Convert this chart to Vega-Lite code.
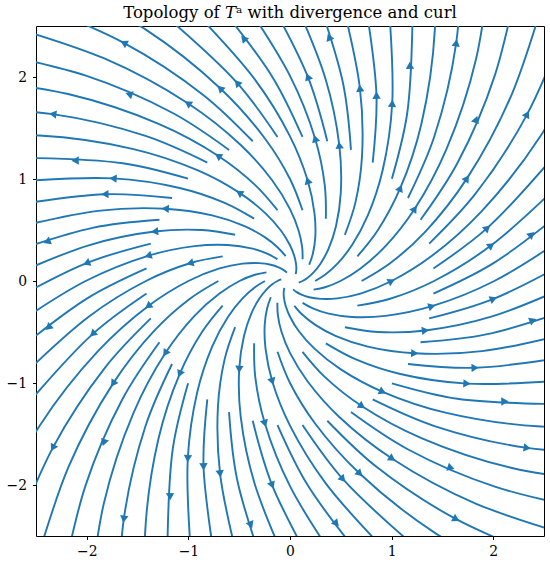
{
"$schema": "https://vega.github.io/schema/vega-lite/v6.json",
"width": 508, "height": 510,
"autosize": {"type": "none"},
"padding": {"left": 36, "top": 26, "right": 6, "bottom": 27},
"title": {"text": "Topology of 𝑇ᵃ with divergence and curl", "font": "DejaVu Serif", "fontSize": 16.5, "fontWeight": "normal", "color": "#000000", "offset": 5, "anchor": "middle"},
"config": {
  "view": {"stroke": "#000000", "strokeWidth": 1},
  "axis": {"title": null, "grid": false, "domain": false, "labelFont": "DejaVu Serif", "labelFontSize": 13.9, "labelColor": "#000000", "tickColor": "#000000", "tickSize": 3.5, "tickWidth": 1},
  "axisX": {"labelPadding": 5},
  "axisY": {"labelPadding": 6}
},
"datasets": {
"lines": [
{"id":"a0","k":-7,"x":0.030,"y":-0.082},{"id":"a0","k":-6,"x":0.062,"y":-0.107},{"id":"a0","k":-5,"x":0.112,"y":-0.133},{"id":"a0","k":-4,"x":0.189,"y":-0.159},{"id":"a0","k":-3,"x":0.303,"y":-0.175},{"id":"a0","k":-2,"x":0.467,"y":-0.170},{"id":"a0","k":-1,"x":0.694,"y":-0.123},{"id":"a0","k":0,"x":1,"y":0},{"id":"a0","k":1,"x":1.397,"y":0.247},{"id":"a0","k":2,"x":1.890,"y":0.688},{"id":"a0","k":3,"x":2.469,"y":1.426},{"id":"a0","k":4,"x":3.095,"y":2.597},
{"id":"a60","k":-7,"x":0.086,"y":-0.015},{"id":"a60","k":-6,"x":0.123,"y":0},{"id":"a60","k":-5,"x":0.171,"y":0.030},{"id":"a60","k":-4,"x":0.232,"y":0.084},{"id":"a60","k":-3,"x":0.303,"y":0.175},{"id":"a60","k":-2,"x":0.381,"y":0.320},{"id":"a60","k":-1,"x":0.453,"y":0.540},{"id":"a60","k":0,"x":0.5,"y":0.866},{"id":"a60","k":1,"x":0.485,"y":1.333},{"id":"a60","k":2,"x":0.350,"y":1.981},{"id":"a60","k":3,"x":0,"y":2.851},
{"id":"a120","k":-7,"x":0.056,"y":0.067},{"id":"a120","k":-6,"x":0.062,"y":0.107},{"id":"a120","k":-5,"x":0.060,"y":0.164},{"id":"a120","k":-4,"x":0.043,"y":0.243},{"id":"a120","k":-3,"x":0,"y":0.350},{"id":"a120","k":-2,"x":-0.086,"y":0.490},{"id":"a120","k":-1,"x":-0.241,"y":0.663},{"id":"a120","k":0,"x":-0.5,"y":0.866},{"id":"a120","k":1,"x":-0.912,"y":1.086},{"id":"a120","k":2,"x":-1.540,"y":1.293},{"id":"a120","k":3,"x":-2.469,"y":1.426},{"id":"a120","k":4,"x":-3.796,"y":1.382},
{"id":"a180","k":-7,"x":-0.030,"y":0.082},{"id":"a180","k":-6,"x":-0.062,"y":0.107},{"id":"a180","k":-5,"x":-0.112,"y":0.133},{"id":"a180","k":-4,"x":-0.189,"y":0.159},{"id":"a180","k":-3,"x":-0.303,"y":0.175},{"id":"a180","k":-2,"x":-0.467,"y":0.170},{"id":"a180","k":-1,"x":-0.694,"y":0.123},{"id":"a180","k":0,"x":-1,"y":0},{"id":"a180","k":1,"x":-1.397,"y":-0.247},{"id":"a180","k":2,"x":-1.890,"y":-0.688},{"id":"a180","k":3,"x":-2.469,"y":-1.426},{"id":"a180","k":4,"x":-3.095,"y":-2.597},
{"id":"a240","k":-7,"x":-0.086,"y":0.015},{"id":"a240","k":-6,"x":-0.123,"y":0},{"id":"a240","k":-5,"x":-0.171,"y":-0.030},{"id":"a240","k":-4,"x":-0.232,"y":-0.084},{"id":"a240","k":-3,"x":-0.303,"y":-0.175},{"id":"a240","k":-2,"x":-0.381,"y":-0.320},{"id":"a240","k":-1,"x":-0.453,"y":-0.540},{"id":"a240","k":0,"x":-0.5,"y":-0.866},{"id":"a240","k":1,"x":-0.485,"y":-1.333},{"id":"a240","k":2,"x":-0.350,"y":-1.981},{"id":"a240","k":3,"x":0,"y":-2.851},
{"id":"a300","k":-7,"x":-0.056,"y":-0.067},{"id":"a300","k":-6,"x":-0.062,"y":-0.107},{"id":"a300","k":-5,"x":-0.060,"y":-0.164},{"id":"a300","k":-4,"x":-0.043,"y":-0.243},{"id":"a300","k":-3,"x":0,"y":-0.350},{"id":"a300","k":-2,"x":0.086,"y":-0.490},{"id":"a300","k":-1,"x":0.241,"y":-0.663},{"id":"a300","k":0,"x":0.5,"y":-0.866},{"id":"a300","k":1,"x":0.912,"y":-1.086},{"id":"a300","k":2,"x":1.540,"y":-1.293},{"id":"a300","k":3,"x":2.469,"y":-1.426},{"id":"a300","k":4,"x":3.796,"y":-1.382},
{"id":"b20","k":-4,"x":0.232,"y":-0.084},{"id":"b20","k":-3,"x":0.345,"y":-0.061},{"id":"b20","k":-2,"x":0.497,"y":0},{"id":"b20","k":-1,"x":0.694,"y":0.123},{"id":"b20","k":0,"x":0.940,"y":0.342},{"id":"b20","k":1,"x":1.228,"y":0.709},{"id":"b20","k":2,"x":1.540,"y":1.293},{"id":"b20","k":3,"x":1.833,"y":2.184},{"id":"b20","k":4,"x":2.02,"y":3.499},
{"id":"b40","k":-4,"x":0.247,"y":0},{"id":"b40","k":-3,"x":0.345,"y":0.061},{"id":"b40","k":-2,"x":0.467,"y":0.170},{"id":"b40","k":-1,"x":0.611,"y":0.353},{"id":"b40","k":0,"x":0.766,"y":0.643},{"id":"b40","k":1,"x":0.912,"y":1.086},{"id":"b40","k":2,"x":1.006,"y":1.742},{"id":"b40","k":3,"x":0.975,"y":2.680},
{"id":"b80","k":-4,"x":0.189,"y":0.159},{"id":"b80","k":-3,"x":0.225,"y":0.268},{"id":"b80","k":-2,"x":0.249,"y":0.430},{"id":"b80","k":-1,"x":0.241,"y":0.663},{"id":"b80","k":0,"x":0.174,"y":0.985},{"id":"b80","k":1,"x":0,"y":1.418},{"id":"b80","k":2,"x":-0.350,"y":1.981},{"id":"b80","k":3,"x":-0.975,"y":2.680},
{"id":"b100","k":-4,"x":0.124,"y":0.214},{"id":"b100","k":-3,"x":0.120,"y":0.329},{"id":"b100","k":-2,"x":0.086,"y":0.490},{"id":"b100","k":-1,"x":0,"y":0.705},{"id":"b100","k":0,"x":-0.174,"y":0.985},{"id":"b100","k":1,"x":-0.485,"y":1.333},{"id":"b100","k":2,"x":-1.006,"y":1.742},{"id":"b100","k":3,"x":-1.833,"y":2.184},{"id":"b100","k":4,"x":-3.095,"y":2.597},
{"id":"b140","k":-4,"x":-0.043,"y":0.243},{"id":"b140","k":-3,"x":-0.120,"y":0.329},{"id":"b140","k":-2,"x":-0.249,"y":0.430},{"id":"b140","k":-1,"x":-0.453,"y":0.540},{"id":"b140","k":0,"x":-0.766,"y":0.643},{"id":"b140","k":1,"x":-1.228,"y":0.709},{"id":"b140","k":2,"x":-1.890,"y":0.688},{"id":"b140","k":3,"x":-2.808,"y":0.496},
{"id":"b160","k":-4,"x":-0.124,"y":0.214},{"id":"b160","k":-3,"x":-0.225,"y":0.268},{"id":"b160","k":-2,"x":-0.381,"y":0.320},{"id":"b160","k":-1,"x":-0.611,"y":0.353},{"id":"b160","k":0,"x":-0.940,"y":0.342},{"id":"b160","k":1,"x":-1.397,"y":0.247},{"id":"b160","k":2,"x":-2.011,"y":0},{"id":"b160","k":3,"x":-2.808,"y":-0.496},
{"id":"b200","k":-4,"x":-0.232,"y":0.084},{"id":"b200","k":-3,"x":-0.345,"y":0.061},{"id":"b200","k":-2,"x":-0.497,"y":0},{"id":"b200","k":-1,"x":-0.694,"y":-0.123},{"id":"b200","k":0,"x":-0.940,"y":-0.342},{"id":"b200","k":1,"x":-1.228,"y":-0.709},{"id":"b200","k":2,"x":-1.540,"y":-1.293},{"id":"b200","k":3,"x":-1.833,"y":-2.184},{"id":"b200","k":4,"x":-2.02,"y":-3.499},
{"id":"b220","k":-4,"x":-0.247,"y":0},{"id":"b220","k":-3,"x":-0.345,"y":-0.061},{"id":"b220","k":-2,"x":-0.467,"y":-0.170},{"id":"b220","k":-1,"x":-0.611,"y":-0.353},{"id":"b220","k":0,"x":-0.766,"y":-0.643},{"id":"b220","k":1,"x":-0.912,"y":-1.086},{"id":"b220","k":2,"x":-1.006,"y":-1.742},{"id":"b220","k":3,"x":-0.975,"y":-2.680},
{"id":"b260","k":-4,"x":-0.189,"y":-0.159},{"id":"b260","k":-3,"x":-0.225,"y":-0.268},{"id":"b260","k":-2,"x":-0.249,"y":-0.430},{"id":"b260","k":-1,"x":-0.241,"y":-0.663},{"id":"b260","k":0,"x":-0.174,"y":-0.985},{"id":"b260","k":1,"x":0,"y":-1.418},{"id":"b260","k":2,"x":0.350,"y":-1.981},{"id":"b260","k":3,"x":0.975,"y":-2.680},
{"id":"b280","k":-4,"x":-0.124,"y":-0.214},{"id":"b280","k":-3,"x":-0.120,"y":-0.329},{"id":"b280","k":-2,"x":-0.086,"y":-0.490},{"id":"b280","k":-1,"x":0,"y":-0.705},{"id":"b280","k":0,"x":0.174,"y":-0.985},{"id":"b280","k":1,"x":0.485,"y":-1.333},{"id":"b280","k":2,"x":1.006,"y":-1.742},{"id":"b280","k":3,"x":1.833,"y":-2.184},{"id":"b280","k":4,"x":3.095,"y":-2.597},
{"id":"b320","k":-4,"x":0.043,"y":-0.243},{"id":"b320","k":-3,"x":0.120,"y":-0.329},{"id":"b320","k":-2,"x":0.249,"y":-0.430},{"id":"b320","k":-1,"x":0.453,"y":-0.540},{"id":"b320","k":0,"x":0.766,"y":-0.643},{"id":"b320","k":1,"x":1.228,"y":-0.709},{"id":"b320","k":2,"x":1.890,"y":-0.688},{"id":"b320","k":3,"x":2.808,"y":-0.496},
{"id":"b340","k":-4,"x":0.124,"y":-0.214},{"id":"b340","k":-3,"x":0.225,"y":-0.268},{"id":"b340","k":-2,"x":0.381,"y":-0.320},{"id":"b340","k":-1,"x":0.611,"y":-0.353},{"id":"b340","k":0,"x":0.940,"y":-0.342},{"id":"b340","k":1,"x":1.397,"y":-0.247},{"id":"b340","k":2,"x":2.011,"y":0},{"id":"b340","k":3,"x":2.808,"y":0.496},
{"id":"c10","k":-1,"x":0.705,"y":0},{"id":"c10","k":0,"x":0.985,"y":0.174},{"id":"c10","k":1,"x":1.333,"y":0.485},{"id":"c10","k":2,"x":1.742,"y":1.006},{"id":"c10","k":3,"x":2.184,"y":1.833},{"id":"c10","k":4,"x":2.597,"y":3.095},
{"id":"c30","k":-1,"x":0.663,"y":0.241},{"id":"c30","k":0,"x":0.866,"y":0.5},{"id":"c30","k":1,"x":1.086,"y":0.912},{"id":"c30","k":2,"x":1.293,"y":1.540},{"id":"c30","k":3,"x":1.426,"y":2.469},{"id":"c30","k":4,"x":1.382,"y":3.796},
{"id":"c50","k":-1,"x":0.540,"y":0.453},{"id":"c50","k":0,"x":0.643,"y":0.766},{"id":"c50","k":1,"x":0.709,"y":1.228},{"id":"c50","k":2,"x":0.688,"y":1.890},{"id":"c50","k":3,"x":0.496,"y":2.808},
{"id":"c70","k":-1,"x":0.353,"y":0.611},{"id":"c70","k":0,"x":0.342,"y":0.940},{"id":"c70","k":1,"x":0.247,"y":1.397},{"id":"c70","k":2,"x":0,"y":2.011},{"id":"c70","k":3,"x":-0.496,"y":2.808},
{"id":"c90","k":-1,"x":0.123,"y":0.694},{"id":"c90","k":0,"x":0,"y":1},{"id":"c90","k":1,"x":-0.247,"y":1.397},{"id":"c90","k":2,"x":-0.688,"y":1.890},{"id":"c90","k":3,"x":-1.426,"y":2.469},{"id":"c90","k":4,"x":-2.597,"y":3.095},
{"id":"c110","k":-1,"x":-0.123,"y":0.694},{"id":"c110","k":0,"x":-0.342,"y":0.940},{"id":"c110","k":1,"x":-0.709,"y":1.228},{"id":"c110","k":2,"x":-1.293,"y":1.540},{"id":"c110","k":3,"x":-2.184,"y":1.833},{"id":"c110","k":4,"x":-3.499,"y":2.02},
{"id":"c130","k":-1,"x":-0.353,"y":0.611},{"id":"c130","k":0,"x":-0.643,"y":0.766},{"id":"c130","k":1,"x":-1.086,"y":0.912},{"id":"c130","k":2,"x":-1.742,"y":1.006},{"id":"c130","k":3,"x":-2.680,"y":0.975},
{"id":"c150","k":-1,"x":-0.540,"y":0.453},{"id":"c150","k":0,"x":-0.866,"y":0.5},{"id":"c150","k":1,"x":-1.333,"y":0.485},{"id":"c150","k":2,"x":-1.981,"y":0.350},{"id":"c150","k":3,"x":-2.851,"y":0},
{"id":"c170","k":-1,"x":-0.663,"y":0.241},{"id":"c170","k":0,"x":-0.985,"y":0.174},{"id":"c170","k":1,"x":-1.418,"y":0},{"id":"c170","k":2,"x":-1.981,"y":-0.350},{"id":"c170","k":3,"x":-2.680,"y":-0.975},
{"id":"c190","k":-1,"x":-0.705,"y":0},{"id":"c190","k":0,"x":-0.985,"y":-0.174},{"id":"c190","k":1,"x":-1.333,"y":-0.485},{"id":"c190","k":2,"x":-1.742,"y":-1.006},{"id":"c190","k":3,"x":-2.184,"y":-1.833},{"id":"c190","k":4,"x":-2.597,"y":-3.095},
{"id":"c210","k":-1,"x":-0.663,"y":-0.241},{"id":"c210","k":0,"x":-0.866,"y":-0.5},{"id":"c210","k":1,"x":-1.086,"y":-0.912},{"id":"c210","k":2,"x":-1.293,"y":-1.540},{"id":"c210","k":3,"x":-1.426,"y":-2.469},{"id":"c210","k":4,"x":-1.382,"y":-3.796},
{"id":"c230","k":-1,"x":-0.540,"y":-0.453},{"id":"c230","k":0,"x":-0.643,"y":-0.766},{"id":"c230","k":1,"x":-0.709,"y":-1.228},{"id":"c230","k":2,"x":-0.688,"y":-1.890},{"id":"c230","k":3,"x":-0.496,"y":-2.808},
{"id":"c250","k":-1,"x":-0.353,"y":-0.611},{"id":"c250","k":0,"x":-0.342,"y":-0.940},{"id":"c250","k":1,"x":-0.247,"y":-1.397},{"id":"c250","k":2,"x":0,"y":-2.011},{"id":"c250","k":3,"x":0.496,"y":-2.808},
{"id":"c270","k":-1,"x":-0.123,"y":-0.694},{"id":"c270","k":0,"x":0,"y":-1},{"id":"c270","k":1,"x":0.247,"y":-1.397},{"id":"c270","k":2,"x":0.688,"y":-1.890},{"id":"c270","k":3,"x":1.426,"y":-2.469},{"id":"c270","k":4,"x":2.597,"y":-3.095},
{"id":"c290","k":-1,"x":0.123,"y":-0.694},{"id":"c290","k":0,"x":0.342,"y":-0.940},{"id":"c290","k":1,"x":0.709,"y":-1.228},{"id":"c290","k":2,"x":1.293,"y":-1.540},{"id":"c290","k":3,"x":2.184,"y":-1.833},{"id":"c290","k":4,"x":3.499,"y":-2.02},
{"id":"c310","k":-1,"x":0.353,"y":-0.611},{"id":"c310","k":0,"x":0.643,"y":-0.766},{"id":"c310","k":1,"x":1.086,"y":-0.912},{"id":"c310","k":2,"x":1.742,"y":-1.006},{"id":"c310","k":3,"x":2.680,"y":-0.975},
{"id":"c330","k":-1,"x":0.540,"y":-0.453},{"id":"c330","k":0,"x":0.866,"y":-0.5},{"id":"c330","k":1,"x":1.333,"y":-0.485},{"id":"c330","k":2,"x":1.981,"y":-0.350},{"id":"c330","k":3,"x":2.851,"y":0},
{"id":"c350","k":-1,"x":0.663,"y":-0.241},{"id":"c350","k":0,"x":0.985,"y":-0.174},{"id":"c350","k":1,"x":1.418,"y":0},{"id":"c350","k":2,"x":1.981,"y":0.350},{"id":"c350","k":3,"x":2.680,"y":0.975},
{"id":"d5","k":1,"x":1.370,"y":0.367},{"id":"d5","k":2,"x":1.822,"y":0.851},{"id":"d5","k":3,"x":2.335,"y":1.636},{"id":"d5","k":4,"x":2.857,"y":2.857},
{"id":"d15","k":1,"x":1.285,"y":0.600},{"id":"d15","k":2,"x":1.647,"y":1.154},{"id":"d15","k":3,"x":2.016,"y":2.016},{"id":"d15","k":4,"x":2.319,"y":3.309},
{"id":"d25","k":1,"x":1.161,"y":0.814},{"id":"d25","k":2,"x":1.422,"y":1.422},{"id":"d25","k":3,"x":1.636,"y":2.335},{"id":"d25","k":4,"x":1.707,"y":3.661},
{"id":"d35","k":1,"x":1.003,"y":1.003},{"id":"d35","k":2,"x":1.154,"y":1.647},{"id":"d35","k":3,"x":1.206,"y":2.583},
{"id":"d45","k":1,"x":0.814,"y":1.161},{"id":"d45","k":2,"x":0.851,"y":1.822},{"id":"d45","k":3,"x":0.738,"y":2.754},
{"id":"d55","k":1,"x":0.600,"y":1.285},{"id":"d55","k":2,"x":0.521,"y":1.943},{"id":"d55","k":3,"x":0.248,"y":2.840},
{"id":"d65","k":1,"x":0.367,"y":1.370},{"id":"d65","k":2,"x":0.175,"y":2.003},{"id":"d65","k":3,"x":-0.248,"y":2.840},
{"id":"d75","k":1,"x":0.123,"y":1.412},{"id":"d75","k":2,"x":-0.175,"y":2.003},{"id":"d75","k":3,"x":-0.738,"y":2.754},
{"id":"d85","k":1,"x":-0.123,"y":1.412},{"id":"d85","k":2,"x":-0.521,"y":1.943},{"id":"d85","k":3,"x":-1.206,"y":2.583},
{"id":"d95","k":1,"x":-0.367,"y":1.370},{"id":"d95","k":2,"x":-0.851,"y":1.822},{"id":"d95","k":3,"x":-1.636,"y":2.335},{"id":"d95","k":4,"x":-2.857,"y":2.857},
{"id":"d105","k":1,"x":-0.600,"y":1.285},{"id":"d105","k":2,"x":-1.154,"y":1.647},{"id":"d105","k":3,"x":-2.016,"y":2.016},{"id":"d105","k":4,"x":-3.309,"y":2.319},
{"id":"d115","k":1,"x":-0.814,"y":1.161},{"id":"d115","k":2,"x":-1.422,"y":1.422},{"id":"d115","k":3,"x":-2.335,"y":1.636},{"id":"d115","k":4,"x":-3.661,"y":1.707},
{"id":"d125","k":1,"x":-1.003,"y":1.003},{"id":"d125","k":2,"x":-1.647,"y":1.154},{"id":"d125","k":3,"x":-2.583,"y":1.206},
{"id":"d135","k":1,"x":-1.161,"y":0.814},{"id":"d135","k":2,"x":-1.822,"y":0.851},{"id":"d135","k":3,"x":-2.754,"y":0.738},
{"id":"d145","k":1,"x":-1.285,"y":0.600},{"id":"d145","k":2,"x":-1.943,"y":0.521},{"id":"d145","k":3,"x":-2.840,"y":0.248},
{"id":"d155","k":1,"x":-1.370,"y":0.367},{"id":"d155","k":2,"x":-2.003,"y":0.175},{"id":"d155","k":3,"x":-2.840,"y":-0.248},
{"id":"d165","k":1,"x":-1.412,"y":0.123},{"id":"d165","k":2,"x":-2.003,"y":-0.175},{"id":"d165","k":3,"x":-2.754,"y":-0.738},
{"id":"d175","k":1,"x":-1.412,"y":-0.123},{"id":"d175","k":2,"x":-1.943,"y":-0.521},{"id":"d175","k":3,"x":-2.583,"y":-1.206},
{"id":"d185","k":1,"x":-1.370,"y":-0.367},{"id":"d185","k":2,"x":-1.822,"y":-0.851},{"id":"d185","k":3,"x":-2.335,"y":-1.636},{"id":"d185","k":4,"x":-2.857,"y":-2.857},
{"id":"d195","k":1,"x":-1.285,"y":-0.600},{"id":"d195","k":2,"x":-1.647,"y":-1.154},{"id":"d195","k":3,"x":-2.016,"y":-2.016},{"id":"d195","k":4,"x":-2.319,"y":-3.309},
{"id":"d205","k":1,"x":-1.161,"y":-0.814},{"id":"d205","k":2,"x":-1.422,"y":-1.422},{"id":"d205","k":3,"x":-1.636,"y":-2.335},{"id":"d205","k":4,"x":-1.707,"y":-3.661},
{"id":"d215","k":1,"x":-1.003,"y":-1.003},{"id":"d215","k":2,"x":-1.154,"y":-1.647},{"id":"d215","k":3,"x":-1.206,"y":-2.583},
{"id":"d225","k":1,"x":-0.814,"y":-1.161},{"id":"d225","k":2,"x":-0.851,"y":-1.822},{"id":"d225","k":3,"x":-0.738,"y":-2.754},
{"id":"d235","k":1,"x":-0.600,"y":-1.285},{"id":"d235","k":2,"x":-0.521,"y":-1.943},{"id":"d235","k":3,"x":-0.248,"y":-2.840},
{"id":"d245","k":1,"x":-0.367,"y":-1.370},{"id":"d245","k":2,"x":-0.175,"y":-2.003},{"id":"d245","k":3,"x":0.248,"y":-2.840},
{"id":"d255","k":1,"x":-0.123,"y":-1.412},{"id":"d255","k":2,"x":0.175,"y":-2.003},{"id":"d255","k":3,"x":0.738,"y":-2.754},
{"id":"d265","k":1,"x":0.123,"y":-1.412},{"id":"d265","k":2,"x":0.521,"y":-1.943},{"id":"d265","k":3,"x":1.206,"y":-2.583},
{"id":"d275","k":1,"x":0.367,"y":-1.370},{"id":"d275","k":2,"x":0.851,"y":-1.822},{"id":"d275","k":3,"x":1.636,"y":-2.335},{"id":"d275","k":4,"x":2.857,"y":-2.857},
{"id":"d285","k":1,"x":0.600,"y":-1.285},{"id":"d285","k":2,"x":1.154,"y":-1.647},{"id":"d285","k":3,"x":2.016,"y":-2.016},{"id":"d285","k":4,"x":3.309,"y":-2.319},
{"id":"d295","k":1,"x":0.814,"y":-1.161},{"id":"d295","k":2,"x":1.422,"y":-1.422},{"id":"d295","k":3,"x":2.335,"y":-1.636},{"id":"d295","k":4,"x":3.661,"y":-1.707},
{"id":"d305","k":1,"x":1.003,"y":-1.003},{"id":"d305","k":2,"x":1.647,"y":-1.154},{"id":"d305","k":3,"x":2.583,"y":-1.206},
{"id":"d315","k":1,"x":1.161,"y":-0.814},{"id":"d315","k":2,"x":1.822,"y":-0.851},{"id":"d315","k":3,"x":2.754,"y":-0.738},
{"id":"d325","k":1,"x":1.285,"y":-0.600},{"id":"d325","k":2,"x":1.943,"y":-0.521},{"id":"d325","k":3,"x":2.840,"y":-0.248},
{"id":"d335","k":1,"x":1.370,"y":-0.367},{"id":"d335","k":2,"x":2.003,"y":-0.175},{"id":"d335","k":3,"x":2.840,"y":0.248},
{"id":"d345","k":1,"x":1.412,"y":-0.123},{"id":"d345","k":2,"x":2.003,"y":0.175},{"id":"d345","k":3,"x":2.754,"y":0.738},
{"id":"d355","k":1,"x":1.412,"y":0.123},{"id":"d355","k":2,"x":1.943,"y":0.521},{"id":"d355","k":3,"x":2.583,"y":1.206}
],
"arrows": [
{"x":1,"y":0,"dir":333.4},{"x":0.485,"y":1.333,"dir":263.4},{"x":-0.5,"y":0.866,"dir":213.4},{"x":-1.397,"y":-0.247,"dir":143.4},{"x":-0.5,"y":-0.866,"dir":93.4},{"x":0.912,"y":-1.086,"dir":23.4},
{"x":1.228,"y":0.709,"dir":303.4},{"x":1.006,"y":1.742,"dir":273.4},{"x":0.174,"y":0.985,"dir":253.4},{"x":-1.006,"y":1.742,"dir":213.4},{"x":-1.228,"y":0.709,"dir":183.4},{"x":-1.397,"y":0.247,"dir":163.4},
{"x":-1.228,"y":-0.709,"dir":123.4},{"x":-1.006,"y":-1.742,"dir":93.4},{"x":-0.174,"y":-0.985,"dir":73.4},{"x":1.006,"y":-1.742,"dir":33.4},{"x":1.228,"y":-0.709,"dir":3.4},{"x":1.397,"y":-0.247,"dir":343.4},
{"x":1.742,"y":1.006,"dir":303.4},{"x":1.086,"y":0.912,"dir":293.4},{"x":0.688,"y":1.890,"dir":263.4},{"x":0.247,"y":1.397,"dir":253.4},{"x":-0.688,"y":1.890,"dir":223.4},{"x":-0.709,"y":1.228,"dir":213.4},
{"x":-1.742,"y":1.006,"dir":183.4},{"x":-1.333,"y":0.485,"dir":173.4},{"x":-0.985,"y":0.174,"dir":163.4},{"x":-1.742,"y":-1.006,"dir":123.4},{"x":-1.086,"y":-0.912,"dir":113.4},{"x":-0.688,"y":-1.890,"dir":83.4},
{"x":-0.247,"y":-1.397,"dir":73.4},{"x":0.688,"y":-1.890,"dir":43.4},{"x":0.709,"y":-1.228,"dir":33.4},{"x":1.742,"y":-1.006,"dir":3.4},{"x":1.333,"y":-0.485,"dir":353.4},{"x":1.981,"y":0.350,"dir":323.4},
{"x":2.335,"y":1.636,"dir":298.4},{"x":1.832,"y":1.585,"dir":288.4},{"x":1.636,"y":2.335,"dir":278.4},{"x":1.180,"y":2.115,"dir":268.4},{"x":0.851,"y":1.822,"dir":268.4},{"x":0.385,"y":2.392,"dir":248.4},
{"x":0.175,"y":2.003,"dir":248.4},{"x":-0.457,"y":2.379,"dir":228.4},{"x":-0.521,"y":1.943,"dir":228.4},{"x":-1.636,"y":2.335,"dir":208.4},{"x":-1.585,"y":1.832,"dir":198.4},{"x":-2.335,"y":1.636,"dir":188.4},
{"x":-2.115,"y":1.180,"dir":178.4},{"x":-1.822,"y":0.851,"dir":178.4},{"x":-2.392,"y":0.385,"dir":158.4},{"x":-2.003,"y":0.175,"dir":158.4},{"x":-2.379,"y":-0.457,"dir":138.4},{"x":-1.943,"y":-0.521,"dir":138.4},
{"x":-2.335,"y":-1.636,"dir":118.4},{"x":-1.832,"y":-1.585,"dir":108.4},{"x":-1.636,"y":-2.335,"dir":98.4},{"x":-1.180,"y":-2.115,"dir":88.4},{"x":-0.851,"y":-1.822,"dir":88.4},{"x":-0.385,"y":-2.392,"dir":68.4},
{"x":-0.175,"y":-2.003,"dir":68.4},{"x":0.457,"y":-2.379,"dir":48.4},{"x":0.521,"y":-1.943,"dir":48.4},{"x":1.636,"y":-2.335,"dir":28.4},{"x":1.585,"y":-1.832,"dir":18.4},{"x":2.335,"y":-1.636,"dir":8.4},
{"x":2.115,"y":-1.180,"dir":358.4},{"x":1.822,"y":-0.851,"dir":358.4},{"x":2.392,"y":-0.385,"dir":338.4},{"x":2.003,"y":-0.175,"dir":338.4},{"x":2.379,"y":0.457,"dir":318.4},{"x":1.943,"y":0.521,"dir":318.4}
]
},
"layer": [
{
  "data": {"name": "lines"},
  "mark": {"type": "line", "clip": true, "interpolate": "catmull-rom", "strokeWidth": 1.9, "color": "#1f77b4"},
  "encoding": {
    "x": {"field": "x", "type": "quantitative", "scale": {"domain": [-2.5, 2.5], "nice": false, "zero": false}, "axis": {"values": [-2, -1, 0, 1, 2], "format": "d"}},
    "y": {"field": "y", "type": "quantitative", "scale": {"domain": [-2.5, 2.5], "nice": false, "zero": false}, "axis": {"values": [-2, -1, 0, 1, 2], "format": "d"}},
    "detail": {"field": "id", "type": "nominal"},
    "order": {"field": "k", "type": "quantitative"}
  }
},
{
  "data": {"name": "arrows"},
  "mark": {"type": "point", "shape": "triangle-right", "filled": true, "size": 70, "color": "#1f77b4", "opacity": 1, "clip": true},
  "encoding": {
    "x": {"field": "x", "type": "quantitative", "scale": {"domain": [-2.5, 2.5], "nice": false, "zero": false}},
    "y": {"field": "y", "type": "quantitative", "scale": {"domain": [-2.5, 2.5], "nice": false, "zero": false}},
    "angle": {"field": "dir", "type": "quantitative", "scale": null}
  }
}
]
}
